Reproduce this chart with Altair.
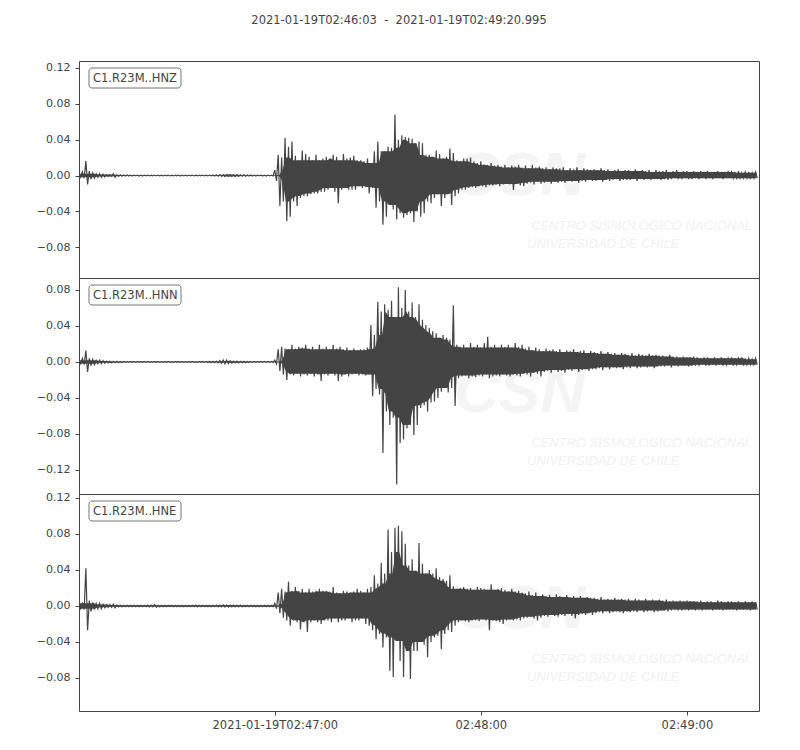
import altair as alt
import pandas as pd

title_text = "2021-01-19T02:46:03\u00a0\u00a0-\u00a0\u00a02021-01-19T02:49:20.995"
channels = ["C1.R23M..HNZ", "C1.R23M..HNN", "C1.R23M..HNE"]
duration = 197.995
x_tick_values = [57, 117, 177]
x_tick_labels = ["2021-01-19T02:47:00", "02:48:00", "02:49:00"]
y_domains = [[-0.1144, 0.1278], [-0.1467, 0.0933], [-0.1167, 0.1244]]
y_ticks = [[-0.08, -0.04, 0.0, 0.04, 0.08, 0.12],
           [-0.12, -0.08, -0.04, 0.0, 0.04, 0.08],
           [-0.08, -0.04, 0.0, 0.04, 0.08, 0.12]]
panel_heights = [217, 216, 217]

# per-second envelope (max / min) of each trace, seconds after 02:46:03
hnz_max = [0.002, 0.004, 0.016, 0.005, 0.003, 0.002, 0.002, 0.0015, 0.001, 0.001,
           0.002, 0.001, 0.0008, 0.0006, 0.0005, 0.0005, 0.0005, 0.0005, 0.0005, 0.0005,
           0.0005, 0.0004, 0.0005, 0.0005, 0.0004, 0.0005, 0.0005, 0.0004, 0.0005, 0.0005,
           0.0005, 0.0004, 0.0005, 0.0005, 0.0004, 0.0005, 0.0005, 0.0004, 0.0005, 0.0006,
           0.0008, 0.001, 0.001, 0.0012, 0.001, 0.001, 0.001, 0.0008, 0.0008, 0.0006,
           0.0005, 0.0005, 0.0005, 0.0005, 0.0005, 0.0005, 0.0005, 0.006, 0.023, 0.02,
           0.042, 0.032, 0.038, 0.022, 0.017, 0.028, 0.024, 0.021, 0.017, 0.023,
           0.017, 0.019, 0.021, 0.019, 0.023, 0.021, 0.017, 0.024, 0.019, 0.02,
           0.022, 0.017, 0.017, 0.016, 0.019, 0.014, 0.027, 0.038, 0.027, 0.027,
           0.032, 0.031, 0.068, 0.04, 0.045, 0.043, 0.042, 0.041, 0.036, 0.038,
           0.036, 0.023, 0.023, 0.021, 0.028, 0.024, 0.019, 0.021, 0.03, 0.025,
           0.017, 0.016, 0.019, 0.019, 0.02, 0.016, 0.014, 0.016, 0.012, 0.012,
           0.014, 0.011, 0.012, 0.010, 0.012, 0.009, 0.011, 0.010, 0.012, 0.009,
           0.011, 0.008, 0.012, 0.009, 0.010, 0.008, 0.009, 0.007, 0.009, 0.008,
           0.008, 0.009, 0.006, 0.008, 0.007, 0.009, 0.006, 0.008, 0.007, 0.006,
           0.007, 0.006, 0.008, 0.006, 0.007, 0.005, 0.006, 0.007, 0.005, 0.006,
           0.006, 0.005, 0.007, 0.005, 0.006, 0.005, 0.006, 0.004, 0.006, 0.005,
           0.005, 0.006, 0.004, 0.005, 0.006, 0.004, 0.005, 0.005, 0.004, 0.005,
           0.004, 0.005, 0.004, 0.005, 0.004, 0.004, 0.005, 0.004, 0.004, 0.005,
           0.004, 0.004, 0.005, 0.003, 0.004, 0.004, 0.003, 0.004]
hnz_min = [-0.002, -0.003, -0.01, -0.004, -0.003, -0.002, -0.002, -0.0015, -0.001, -0.001,
           -0.002, -0.001, -0.0008, -0.0006, -0.0005, -0.0005, -0.0004, -0.0005, -0.0005, -0.0004,
           -0.0005, -0.0005, -0.0004, -0.0005, -0.0005, -0.0004, -0.0005, -0.0005, -0.0004, -0.0005,
           -0.0005, -0.0005, -0.0004, -0.0005, -0.0005, -0.0004, -0.0005, -0.0005, -0.0004, -0.0006,
           -0.0008, -0.001, -0.0012, -0.001, -0.001, -0.0012, -0.001, -0.0008, -0.0008, -0.0006,
           -0.0005, -0.0005, -0.0004, -0.0005, -0.0005, -0.0004, -0.0005, -0.006, -0.034, -0.029,
           -0.051, -0.046, -0.029, -0.034, -0.025, -0.023, -0.023, -0.021, -0.02, -0.02,
           -0.018, -0.018, -0.016, -0.014, -0.018, -0.031, -0.016, -0.014, -0.016, -0.016,
           -0.016, -0.012, -0.014, -0.013, -0.02, -0.014, -0.036, -0.029, -0.055, -0.046,
           -0.033, -0.038, -0.049, -0.042, -0.047, -0.044, -0.042, -0.052, -0.04, -0.046,
           -0.042, -0.029, -0.031, -0.025, -0.021, -0.034, -0.025, -0.021, -0.033, -0.023,
           -0.02, -0.016, -0.016, -0.014, -0.013, -0.014, -0.012, -0.012, -0.013, -0.011,
           -0.011, -0.010, -0.012, -0.010, -0.0095, -0.010, -0.016, -0.0095, -0.011, -0.012,
           -0.009, -0.008, -0.010, -0.007, -0.009, -0.008, -0.007, -0.009, -0.007, -0.008,
           -0.007, -0.008, -0.006, -0.007, -0.006, -0.008, -0.006, -0.007, -0.005, -0.006,
           -0.006, -0.005, -0.007, -0.005, -0.006, -0.005, -0.004, -0.006, -0.005, -0.005,
           -0.005, -0.004, -0.006, -0.004, -0.005, -0.004, -0.005, -0.004, -0.004, -0.005,
           -0.004, -0.005, -0.004, -0.003, -0.004, -0.004, -0.003, -0.004, -0.004, -0.003,
           -0.004, -0.003, -0.004, -0.003, -0.004, -0.003, -0.003, -0.004, -0.003, -0.003,
           -0.003, -0.004, -0.003, -0.003, -0.003, -0.004, -0.003, -0.003]

hnn_max = [0.002, 0.004, 0.0126, 0.004, 0.003, 0.002, 0.002, 0.0015, 0.001, 0.001,
           0.0008, 0.0008, 0.0006, 0.0005, 0.0005, 0.0005, 0.0005, 0.0005, 0.0005, 0.0005,
           0.0005, 0.0004, 0.0005, 0.0005, 0.0004, 0.0005, 0.0005, 0.0004, 0.0005, 0.0005,
           0.0005, 0.0004, 0.0005, 0.0005, 0.0004, 0.0005, 0.0005, 0.0006, 0.0007, 0.0008,
           0.001, 0.0015, 0.002, 0.002, 0.0015, 0.001, 0.001, 0.0008, 0.0008, 0.0006,
           0.0005, 0.0005, 0.0005, 0.0005, 0.0005, 0.0005, 0.0005, 0.002, 0.014, 0.017,
           0.015, 0.014, 0.019, 0.015, 0.017, 0.016, 0.019, 0.015, 0.017, 0.014,
           0.019, 0.015, 0.017, 0.014, 0.019, 0.015, 0.017, 0.014, 0.016, 0.013,
           0.015, 0.013, 0.014, 0.014, 0.016, 0.041, 0.03, 0.067, 0.056, 0.064,
           0.058, 0.068, 0.05, 0.083, 0.06, 0.08, 0.056, 0.066, 0.05, 0.064,
           0.047, 0.041, 0.038, 0.034, 0.032, 0.027, 0.03, 0.027, 0.025, 0.063,
           0.019, 0.017, 0.019, 0.016, 0.021, 0.017, 0.019, 0.016, 0.021, 0.028,
           0.017, 0.019, 0.016, 0.019, 0.017, 0.019, 0.016, 0.021, 0.017, 0.019,
           0.015, 0.017, 0.013, 0.016, 0.014, 0.012, 0.015, 0.013, 0.014, 0.012,
           0.014, 0.011, 0.013, 0.012, 0.014, 0.011, 0.012, 0.013, 0.010, 0.012,
           0.011, 0.010, 0.012, 0.009, 0.011, 0.009, 0.010, 0.008, 0.010, 0.009,
           0.008, 0.010, 0.007, 0.009, 0.008, 0.007, 0.009, 0.007, 0.008, 0.007,
           0.007, 0.006, 0.008, 0.006, 0.006, 0.005, 0.006, 0.005, 0.005, 0.006,
           0.005, 0.004, 0.005, 0.005, 0.004, 0.005, 0.004, 0.005, 0.004, 0.004,
           0.005, 0.004, 0.004, 0.005, 0.004, 0.004, 0.003, 0.004]
hnn_min = [-0.002, -0.003, -0.011, -0.004, -0.003, -0.002, -0.002, -0.0015, -0.001, -0.001,
           -0.0008, -0.0008, -0.0006, -0.0005, -0.0005, -0.0004, -0.0005, -0.0005, -0.0004, -0.0005,
           -0.0005, -0.0005, -0.0004, -0.0005, -0.0005, -0.0004, -0.0005, -0.0005, -0.0004, -0.0005,
           -0.0005, -0.0005, -0.0004, -0.0005, -0.0005, -0.0004, -0.0005, -0.0006, -0.0007, -0.0008,
           -0.001, -0.0015, -0.002, -0.002, -0.0015, -0.001, -0.001, -0.0008, -0.0008, -0.0006,
           -0.0005, -0.0005, -0.0004, -0.0005, -0.0005, -0.0004, -0.0005, -0.002, -0.01, -0.014,
           -0.02, -0.014, -0.015, -0.013, -0.016, -0.014, -0.015, -0.013, -0.016, -0.014,
           -0.021, -0.014, -0.015, -0.013, -0.015, -0.021, -0.016, -0.014, -0.016, -0.014,
           -0.013, -0.015, -0.014, -0.015, -0.014, -0.038, -0.03, -0.036, -0.101, -0.055,
           -0.07, -0.062, -0.136, -0.09, -0.086, -0.074, -0.07, -0.081, -0.07, -0.051,
           -0.048, -0.055, -0.045, -0.044, -0.04, -0.033, -0.029, -0.034, -0.029, -0.049,
           -0.018, -0.016, -0.015, -0.018, -0.016, -0.017, -0.015, -0.016, -0.014, -0.018,
           -0.016, -0.015, -0.016, -0.014, -0.015, -0.016, -0.014, -0.015, -0.016, -0.013,
           -0.014, -0.016, -0.012, -0.013, -0.016, -0.011, -0.010, -0.012, -0.009, -0.011,
           -0.010, -0.012, -0.009, -0.010, -0.008, -0.011, -0.009, -0.008, -0.010, -0.008,
           -0.008, -0.007, -0.009, -0.006, -0.008, -0.006, -0.007, -0.006, -0.008, -0.006,
           -0.007, -0.005, -0.007, -0.006, -0.005, -0.006, -0.005, -0.007, -0.005, -0.005,
           -0.005, -0.004, -0.006, -0.004, -0.005, -0.004, -0.004, -0.005, -0.004, -0.004,
           -0.004, -0.003, -0.004, -0.004, -0.003, -0.004, -0.003, -0.004, -0.003, -0.003,
           -0.004, -0.003, -0.003, -0.004, -0.003, -0.003, -0.003, -0.003]

hne_max = [0.003, 0.004, 0.042, 0.006, 0.004, 0.003, 0.003, 0.002, 0.0015, 0.0015,
           0.002, 0.001, 0.001, 0.0008, 0.0008, 0.0008, 0.0008, 0.0008, 0.0008, 0.0008,
           0.001, 0.001, 0.0015, 0.001, 0.0008, 0.0008, 0.0008, 0.0008, 0.0008, 0.0008,
           0.0008, 0.0008, 0.0008, 0.0008, 0.001, 0.0008, 0.0008, 0.0008, 0.0008, 0.0008,
           0.001, 0.001, 0.0012, 0.0012, 0.001, 0.001, 0.001, 0.001, 0.0008, 0.0008,
           0.0008, 0.0008, 0.0008, 0.0008, 0.0008, 0.0008, 0.0008, 0.003, 0.015, 0.019,
           0.016, 0.027, 0.017, 0.021, 0.017, 0.019, 0.015, 0.019, 0.016, 0.017,
           0.019, 0.017, 0.017, 0.016, 0.021, 0.015, 0.014, 0.017, 0.016, 0.015,
           0.016, 0.019, 0.017, 0.015, 0.019, 0.021, 0.034, 0.025, 0.048, 0.036,
           0.085, 0.06, 0.087, 0.089, 0.083, 0.069, 0.045, 0.052, 0.039, 0.07,
           0.047, 0.036, 0.04, 0.036, 0.042, 0.032, 0.03, 0.028, 0.034, 0.022,
           0.019, 0.02, 0.021, 0.019, 0.02, 0.018, 0.021, 0.02, 0.019, 0.018,
           0.024, 0.018, 0.019, 0.02, 0.018, 0.016, 0.019, 0.016, 0.017, 0.015,
           0.014, 0.016, 0.012, 0.015, 0.011, 0.013, 0.011, 0.012, 0.010, 0.013,
           0.011, 0.010, 0.012, 0.010, 0.011, 0.009, 0.011, 0.009, 0.010, 0.009,
           0.009, 0.008, 0.010, 0.007, 0.008, 0.007, 0.009, 0.007, 0.008, 0.007,
           0.008, 0.006, 0.008, 0.007, 0.006, 0.008, 0.006, 0.007, 0.006, 0.007,
           0.006, 0.007, 0.005, 0.006, 0.005, 0.006, 0.005, 0.006, 0.005, 0.005,
           0.005, 0.006, 0.004, 0.005, 0.005, 0.004, 0.006, 0.005, 0.004, 0.005,
           0.005, 0.004, 0.005, 0.004, 0.005, 0.004, 0.005, 0.004]
hne_min = [-0.003, -0.004, -0.027, -0.006, -0.004, -0.003, -0.003, -0.002, -0.0015, -0.0015,
           -0.002, -0.001, -0.001, -0.0008, -0.0008, -0.0008, -0.0008, -0.0008, -0.0008, -0.0008,
           -0.001, -0.001, -0.0015, -0.001, -0.0008, -0.0008, -0.0008, -0.0008, -0.0008, -0.0008,
           -0.0008, -0.0008, -0.0008, -0.0008, -0.001, -0.0008, -0.0008, -0.0008, -0.0008, -0.0008,
           -0.001, -0.001, -0.0012, -0.0012, -0.001, -0.001, -0.001, -0.001, -0.0008, -0.0008,
           -0.0008, -0.0008, -0.0008, -0.0008, -0.0008, -0.0008, -0.0008, -0.003, -0.008, -0.013,
           -0.016, -0.022, -0.016, -0.018, -0.026, -0.018, -0.029, -0.018, -0.016, -0.018,
           -0.02, -0.016, -0.016, -0.018, -0.014, -0.018, -0.016, -0.016, -0.014, -0.018,
           -0.016, -0.016, -0.014, -0.02, -0.022, -0.027, -0.037, -0.031, -0.046, -0.035,
           -0.072, -0.079, -0.039, -0.061, -0.079, -0.05, -0.081, -0.05, -0.05, -0.04,
           -0.043, -0.057, -0.04, -0.035, -0.033, -0.048, -0.031, -0.027, -0.029, -0.022,
           -0.018, -0.016, -0.017, -0.018, -0.016, -0.016, -0.017, -0.015, -0.016, -0.027,
           -0.016, -0.017, -0.018, -0.02, -0.016, -0.015, -0.016, -0.015, -0.016, -0.014,
           -0.013, -0.012, -0.014, -0.016, -0.013, -0.011, -0.012, -0.010, -0.011, -0.012,
           -0.010, -0.011, -0.009, -0.011, -0.014, -0.010, -0.009, -0.010, -0.008, -0.010,
           -0.008, -0.007, -0.008, -0.006, -0.008, -0.007, -0.006, -0.007, -0.008, -0.006,
           -0.007, -0.006, -0.007, -0.005, -0.007, -0.006, -0.005, -0.007, -0.006, -0.005,
           -0.005, -0.006, -0.005, -0.004, -0.005, -0.005, -0.004, -0.005, -0.004, -0.005,
           -0.004, -0.005, -0.004, -0.004, -0.005, -0.004, -0.004, -0.005, -0.004, -0.004,
           -0.004, -0.005, -0.004, -0.004, -0.004, -0.005, -0.004, -0.004]

envelopes = [(hnz_max, hnz_min), (hnn_max, hnn_min), (hne_max, hne_min)]

INK = "#444444"
FONT = "DejaVu Sans"


def zigzag_frame(mx, mn):
    rows = []
    for i, (a, b) in enumerate(zip(mx, mn)):
        rows.append({"t": i, "v": a})
        rows.append({"t": i + 0.5, "v": b})
    return pd.DataFrame(rows)


def band_frame(mx, mn):
    n = min(len(mx), len(mn))
    return pd.DataFrame({"t": [i + 0.25 for i in range(n)],
                         "hi": mx[:n], "lo": mn[:n]})


label_expr = " : ".join(
    f"datum.value == {v} ? '{lab}'" for v, lab in zip(x_tick_values, x_tick_labels)
) + " : ''"


def panel(idx):
    mx, mn = envelopes[idx]
    bottom = idx == len(channels) - 1
    x_scale = alt.Scale(domain=[0, duration], nice=False, zero=False)
    y_scale = alt.Scale(domain=y_domains[idx], nice=False, zero=False)
    if bottom:
        x_axis = alt.Axis(values=x_tick_values, labelExpr=label_expr, title=None,
                          grid=False, domain=False, tickSize=4, tickColor=INK,
                          labelColor=INK, labelFontSize=11.5, labelFont=FONT,
                          labelPadding=4, labelFlush=False)
    else:
        x_axis = None
    y_axis = alt.Axis(values=y_ticks[idx], format=".2f", title=None, grid=False,
                      domain=False, tickSize=4, tickColor=INK, labelColor=INK,
                      labelFontSize=11, labelFont=FONT, labelPadding=5)

    # dense core of the trace: running envelope over neighbouring seconds
    core = alt.Chart(band_frame(mx, mn)).transform_window(
        core_hi="min(hi)", core_lo="max(lo)", frame=[-2, 2],
        sort=[alt.SortField("t")]
    ).mark_area(color=INK, opacity=1, clip=True).encode(
        x=alt.X("t:Q", scale=x_scale, axis=x_axis),
        y=alt.Y("core_hi:Q", scale=y_scale, axis=y_axis),
        y2="core_lo:Q",
    )
    line = alt.Chart(zigzag_frame(mx, mn)).mark_line(
        color=INK, strokeWidth=1.2, clip=True
    ).encode(
        x=alt.X("t:Q", scale=x_scale),
        y=alt.Y("v:Q", scale=y_scale),
    )

    wm = pd.DataFrame({"a": ["CSN"], "b": ["CENTRO SISMOLÓGICO NACIONAL"],
                       "c": ["UNIVERSIDAD DE CHILE"]})
    wm_csn = alt.Chart(wm).mark_text(
        font="Liberation Sans", fontSize=62, fontStyle="italic", fontWeight="bold",
        color="#f4f4f4", align="left", baseline="middle"
    ).encode(text="a:N", x=alt.value(375), y=alt.value(115))
    wm_1 = alt.Chart(wm).mark_text(
        font="Liberation Sans", fontSize=13, fontStyle="italic",
        color="#f1f1f1", align="left", baseline="middle"
    ).encode(text="b:N", x=alt.value(452), y=alt.value(165))
    wm_2 = alt.Chart(wm).mark_text(
        font="Liberation Sans", fontSize=13, fontStyle="italic",
        color="#f1f1f1", align="left", baseline="middle"
    ).encode(text="c:N", x=alt.value(448), y=alt.value(183))

    lab = pd.DataFrame({"label": [channels[idx]]})
    box = alt.Chart(lab).mark_rect(
        fill="white", stroke="#777777", strokeWidth=1, cornerRadius=3
    ).encode(x=alt.value(10), x2=alt.value(102), y=alt.value(7), y2=alt.value(27))
    txt = alt.Chart(lab).mark_text(
        font=FONT, fontSize=11.5, color=INK, align="left", baseline="middle"
    ).encode(text="label:N", x=alt.value(14), y=alt.value(17.5))

    layers = [wm_csn, wm_1, wm_2, core, line, box, txt]
    if idx == 0:
        ttl = alt.Chart(pd.DataFrame({"title": [title_text]})).mark_text(
            font=FONT, fontSize=11.5, color=INK, align="center", baseline="middle"
        ).encode(text="title:N", x=alt.value(320), y=alt.value(-40))
        layers.append(ttl)
    return alt.layer(*layers).properties(width=680, height=panel_heights[idx])


chart = alt.vconcat(*[panel(i) for i in range(3)], spacing=0, bounds="flush").properties(
    padding={"left": 27, "top": 6, "right": 10, "bottom": 10},
).configure_view(stroke=INK, strokeWidth=1).configure_concat(spacing=0)

chart.save("out.html", embed_options={"renderer": "svg", "actions": False})
